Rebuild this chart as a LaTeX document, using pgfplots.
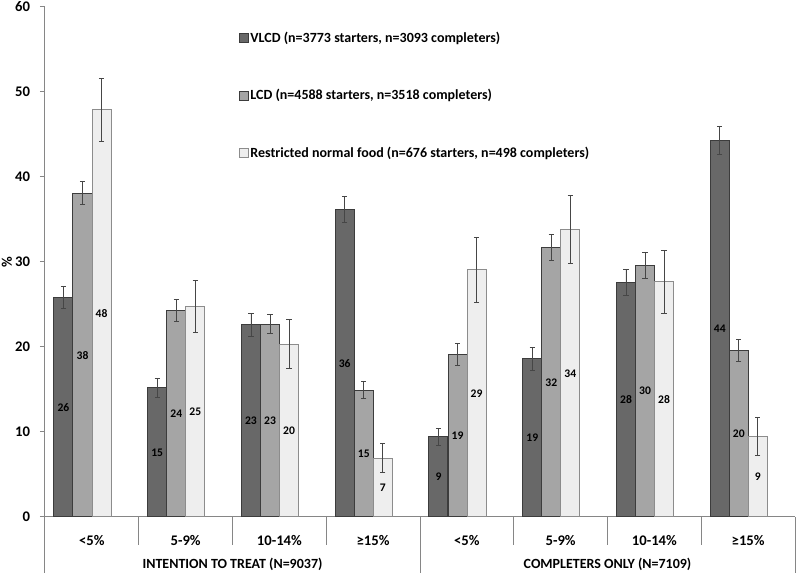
\documentclass[border=0pt]{standalone}
\usepackage{fontspec}
\setmainfont{Carlito}
\usepackage{pgfplots}
\usepackage{pgfplotstable}
\pgfplotsset{compat=1.18}

\definecolor{cV}{RGB}{104,104,104}
\definecolor{cL}{RGB}{165,165,165}
\definecolor{cR}{RGB}{238,238,238}
\definecolor{edgeD}{RGB}{60,60,60}
\definecolor{edgeR}{RGB}{140,140,140}
\definecolor{axgray}{RGB}{134,134,134}
\definecolor{errc}{RGB}{70,70,70}

% x = category index, y = %, e = error half-width, lbl = printed label
\pgfplotstableread{
x y e lbl
0 25.8 1.3 26
1 15.2 1.1 15
2 22.6 1.35 23
3 36.2 1.55 36
4 9.45 1.0 9
5 18.6 1.3 19
6 27.6 1.5 28
7 44.3 1.7 44
}\vlcd
\pgfplotstableread{
x y e lbl
0 38.1 1.35 38
1 24.3 1.25 24
2 22.7 1.15 23
3 14.9 1.0 15
4 19.1 1.3 19
5 31.7 1.55 32
6 29.6 1.5 30
7 19.6 1.25 20
}\lcd
\pgfplotstableread{
x y e lbl
0 47.9 3.75 48
1 24.8 3.05 25
2 20.35 2.9 20
3 6.9 1.7 7
4 29.1 3.8 29
5 33.8 4.0 34
6 27.65 3.7 28
7 9.45 2.25 9
}\rnf

\newcommand\lblfont{\bfseries\fontsize{8.7}{9}\selectfont}
\newcommand\tickfont{\bfseries\fontsize{11}{13}\selectfont}
\newcommand\grpfont{\bfseries\fontsize{10.5}{12}\selectfont}

\begin{document}
\begin{tikzpicture}
\useasboundingbox (-33.75pt,-42pt) rectangle (564pt,387.75pt);
\begin{axis}[
  at={(0,0)}, anchor=south west,
  scale only axis, width=562.5pt, height=382.5pt,
  clip=false,
  ybar, bar width=0.2027,
  xmin=-0.5, xmax=7.5, ymin=0, ymax=60,
  axis lines*=left,
  axis line style={draw=axgray, line width=0.75pt},
  ytick={0,10,...,60},
  tick align=outside, major tick length=3.75pt,
  ytick style={draw=axgray, line width=0.75pt},
  xtick={0,...,7},
  xtick style={draw=none},
  xticklabels={<5\%,5-9\%,10-14\%,≥15\%,<5\%,5-9\%,10-14\%,≥15\%},
  xticklabel style={anchor=base, yshift=-17.5pt, font=\tickfont},
  yticklabel style={font=\tickfont, xshift=-4pt},
  /pgf/number format/assume math mode=true,
  legend cell align=left,
  legend image code/.code={\draw[#1] (0pt,-3.3pt) rectangle (6.6pt,3.3pt);},
  legend style={at={(axis cs:1.527,57.55)}, anchor=north west, draw=none, fill=none,
    font=\bfseries\fontsize{10.5}{12}\selectfont, row sep=31.8pt,
    nodes={inner sep=1pt}},
]
\addplot[fill=cV, draw=edgeD, line width=0.75pt, bar shift=-0.3027,
  error bars/.cd, y dir=both, y explicit,
  error bar style={line width=0.6pt, draw=errc},
  error mark options={rotate=90, mark size=2pt, line width=0.6pt, draw=errc}]
  table[x=x, y=y, y error=e] {\vlcd};
\addlegendentry{VLCD (n=3773 starters, n=3093 completers)}
\addplot[fill=cL, draw=edgeD, line width=0.75pt, bar shift=-0.1,
  error bars/.cd, y dir=both, y explicit,
  error bar style={line width=0.6pt, draw=errc},
  error mark options={rotate=90, mark size=2pt, line width=0.6pt, draw=errc}]
  table[x=x, y=y, y error=e] {\lcd};
\addlegendentry{LCD (n=4588 starters, n=3518 completers)}
\addplot[fill=cR, draw=edgeR, line width=0.75pt, bar shift=0.1027,
  error bars/.cd, y dir=both, y explicit,
  error bar style={line width=0.6pt, draw=errc},
  error mark options={rotate=90, mark size=2pt, line width=0.6pt, draw=errc}]
  table[x=x, y=y, y error=e] {\rnf};
\addlegendentry{Restricted normal food (n=676 starters, n=498 completers)}

% labels in the middle of each bar
\addplot[draw=none, fill=none, bar shift=-0.3027, forget plot,
  nodes near coords, point meta=explicit symbolic,
  every node near coord/.append style={anchor=center, font=\lblfont, text=black}]
  table[x=x, y expr=\thisrow{y}/2, meta=lbl] {\vlcd};
\addplot[draw=none, fill=none, bar shift=-0.1, forget plot,
  nodes near coords, point meta=explicit symbolic,
  every node near coord/.append style={anchor=center, font=\lblfont, text=black}]
  table[x=x, y expr=\thisrow{y}/2, meta=lbl] {\lcd};
\addplot[draw=none, fill=none, bar shift=0.1027, forget plot,
  nodes near coords, point meta=explicit symbolic,
  every node near coord/.append style={anchor=center, font=\lblfont, text=black}]
  table[x=x, y expr=\thisrow{y}/2, meta=lbl] {\rnf};

% category boxes under the axis
\draw[axgray, line width=0.75pt]
  (axis cs:0.5,0) -- ([yshift=-21pt]axis cs:0.5,0)
  (axis cs:1.5,0) -- ([yshift=-21pt]axis cs:1.5,0)
  (axis cs:2.5,0) -- ([yshift=-21pt]axis cs:2.5,0)
  (axis cs:4.5,0) -- ([yshift=-21pt]axis cs:4.5,0)
  (axis cs:5.5,0) -- ([yshift=-21pt]axis cs:5.5,0)
  (axis cs:6.5,0) -- ([yshift=-21pt]axis cs:6.5,0);
\draw[axgray, line width=0.75pt]
  (axis cs:-0.5,0) -- ([yshift=-42pt]axis cs:-0.5,0)
  (axis cs:3.5,0) -- ([yshift=-42pt]axis cs:3.5,0)
  (axis cs:7.5,0) -- ([yshift=-42pt]axis cs:7.5,0);
\node[anchor=base, font=\grpfont] at ([yshift=-38.5pt]axis cs:1.5,0) {INTENTION TO TREAT (N=9037)};
\node[anchor=base, font=\grpfont] at ([yshift=-38.5pt]axis cs:5.5,0) {COMPLETERS ONLY (N=7109)};
\node[rotate=90, font=\tickfont] at ([xshift=-28.5pt]axis cs:-0.5,30) {\%};
\end{axis}
\end{tikzpicture}
\end{document}
